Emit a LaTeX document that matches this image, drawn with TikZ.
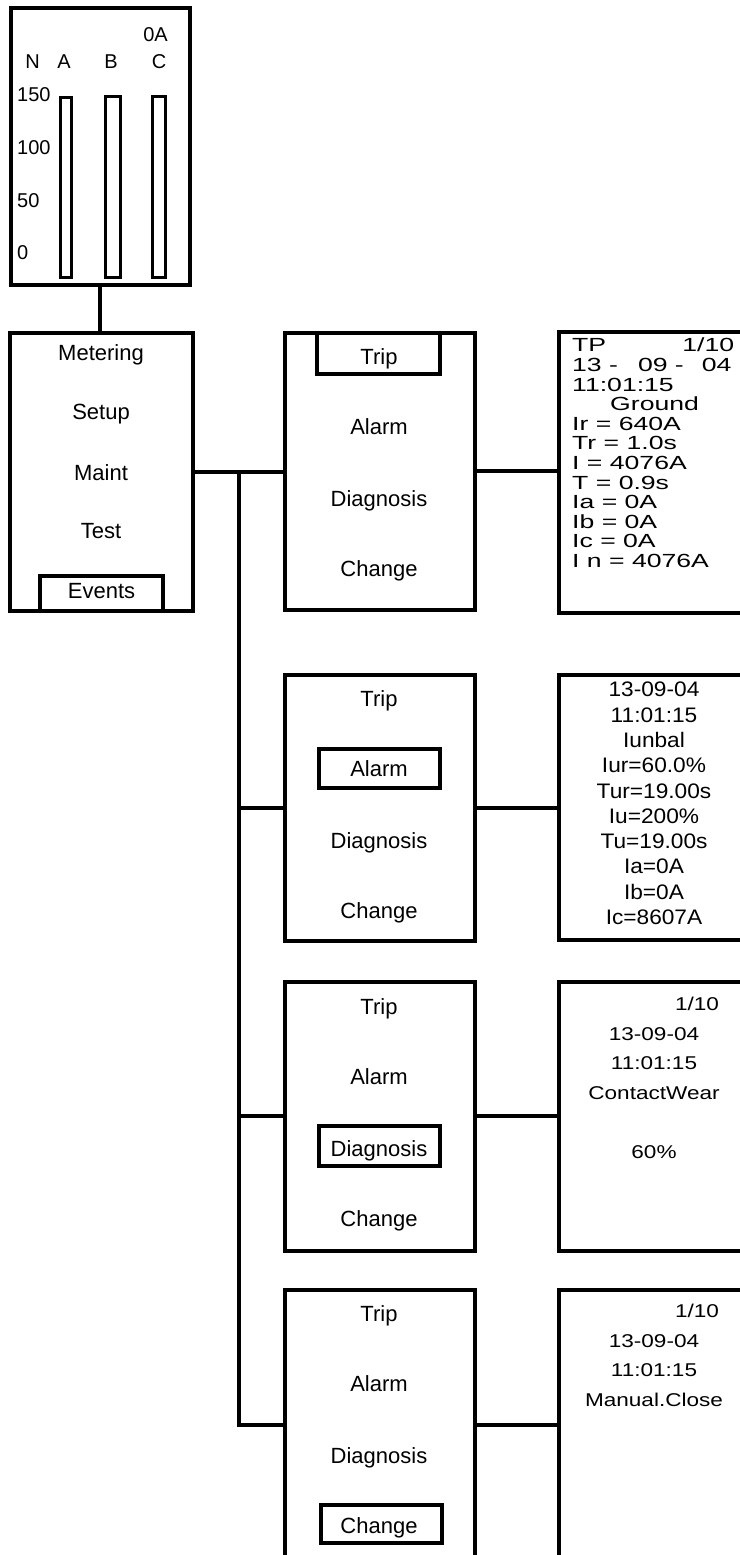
\documentclass[tikz,border=0pt]{standalone}
\usepackage{fontspec}
\setmainfont{Liberation Sans}
\newfontfamily\logwide[FakeStretch=1.4]{Liberation Sans}
\newfontfamily\logmid[FakeStretch=1.08]{Liberation Sans}
\newfontfamily\lognarrow[FakeStretch=1.22]{Liberation Sans}

\tikzset{
    panel/.style={draw, line width=4pt, inner sep=0pt},
    pick/.style={draw, line width=4pt, inner sep=0pt},
    bar/.style={draw, line width=3pt, inner sep=0pt},
    item/.style={inner sep=0pt, anchor=base, font=\fontsize{22}{26}\selectfont},
    gauge/.style={inner sep=0pt, anchor=base, font=\fontsize{20}{24}\selectfont},
    wire/.style={line width=4pt},
}

\begin{document}
\begin{tikzpicture}[x=1pt, y=-1pt]
    \useasboundingbox (0,0) rectangle (739,1555);
    % Bar meter
    \node[panel, minimum width=179pt, minimum height=276pt] (meter) at (100,146.5) {};
    \node[bar, minimum width=11.5pt, minimum height=180pt] (barA) at (65.75,187.5) {};
    \node[bar, minimum width=15pt, minimum height=181.5pt] (barB) at (112.5,186.75) {};
    \node[bar, minimum width=12.5pt, minimum height=181.5pt] (barC) at (158.75,186.75) {};
    \node[gauge] (amps) at (155.5,42) {0A};
    \node[gauge] (phN) at (32.5,68) {N};
    \node[gauge] (phA) at (64,68) {A};
    \node[gauge] (phB) at (111,68) {B};
    \node[gauge] (phC) at (159,68) {C};
    \node[gauge, anchor=base west] (g150) at (17,101) {150};
    \node[gauge, anchor=base west] (g100) at (17,154) {100};
    \node[gauge, anchor=base west] (g50) at (17,207) {50};
    \node[gauge, anchor=base west] (g0) at (17,259) {0};

    % Main menu
    \node[panel, minimum width=183pt, minimum height=277.5pt] (menu) at (101.5,471.75) {};
    \node[item] (mMetering) at (101,360) {Metering};
    \node[item] (mSetup) at (101,419) {Setup};
    \node[item] (mMaint) at (101,480) {Maint};
    \node[item] (mTest) at (101,538) {Test};
    \node[pick, minimum width=123pt, minimum height=35pt] (mEventsBox) at (101,593) {};
    \node[item] (mEvents) at (101.5,598) {Events};

    % Event menus
    \node[panel, minimum width=190pt, minimum height=277pt] (ev1) at (379.5,471) {};
    \node[pick, minimum width=123pt, minimum height=41pt] (ev1Box) at (378,353) {};
    \node[item] (ev1Trip) at (379,364) {Trip};
    \node[item] (ev1Alarm) at (379,434) {Alarm};
    \node[item] (ev1Diag) at (379,506.5) {Diagnosis};
    \node[item] (ev1Change) at (379,576) {Change};

    \node[panel, minimum width=190pt, minimum height=266pt] (ev2) at (379.5,807.5) {};
    \node[pick, minimum width=120.5pt, minimum height=39pt] (ev2Box) at (379.25,768) {};
    \node[item] (ev2Trip) at (379,706) {Trip};
    \node[item] (ev2Alarm) at (379,776) {Alarm};
    \node[item] (ev2Diag) at (379,848.5) {Diagnosis};
    \node[item] (ev2Change) at (379,918) {Change};

    \node[panel, minimum width=190pt, minimum height=269.5pt] (ev3) at (379.5,1116.25) {};
    \node[pick, minimum width=120.5pt, minimum height=39.5pt] (ev3Box) at (379.25,1145.75) {};
    \node[item] (ev3Trip) at (379,1014) {Trip};
    \node[item] (ev3Alarm) at (379,1084) {Alarm};
    \node[item] (ev3Diag) at (379,1156) {Diagnosis};
    \node[item] (ev3Change) at (379,1226) {Change};

    \node[panel, minimum width=190pt, minimum height=270.5pt] (ev4) at (379.5,1424.75) {};
    \node[pick, minimum width=121pt, minimum height=38pt] (ev4Box) at (381,1523.5) {};
    \node[item] (ev4Trip) at (379,1321) {Trip};
    \node[item] (ev4Alarm) at (379,1391) {Alarm};
    \node[item] (ev4Diag) at (379,1463) {Diagnosis};
    \node[item] (ev4Change) at (379,1533) {Change};

    % Record screens
    \node[panel, minimum width=221.5pt, minimum height=281pt] (rec1) at (669.25,472) {};
    \node[panel, minimum width=221.5pt, minimum height=265.5pt] (rec2) at (669.25,807.25) {};
    \node[panel, minimum width=221.5pt, minimum height=269pt] (rec3) at (669.25,1116) {};
    \node[panel, minimum width=221.5pt, minimum height=270.5pt] (rec4) at (669.25,1424.75) {};

    \node[anchor=north west, inner sep=0pt, align=left, font=\logwide\fontsize{19}{19.6}\selectfont] (log1) at (572,338)
        {\makebox[162pt][l]{TP\hfill 1/10}\\
         13 -\hspace{20pt}09 -\hspace{18pt}04\\
         11:01:15\\
         \hspace*{38pt}Ground\\
         Ir = 640A\\
         Tr = 1.0s\\
         I = 4076A\\
         T = 0.9s\\
         Ia = 0A\\
         Ib = 0A\\
         Ic = 0A\\
         I n = 4076A};
    \node[anchor=north, inner sep=0pt, align=center, font=\logmid\fontsize{21}{25.3}\selectfont] (log2) at (654,682)
        {13-09-04\\ 11:01:15\\ Iunbal\\ Iur=60.0\%\\ Tur=19.00s\\ Iu=200\%\\ Tu=19.00s\\ Ia=0A\\ Ib=0A\\ Ic=8607A};
    \node[anchor=base, inner sep=0pt, font=\lognarrow\fontsize{18.5}{29.5}\selectfont] (page3) at (697,1010) {1/10};
    \node[anchor=north, inner sep=0pt, align=center, font=\lognarrow\fontsize{18.5}{29.5}\selectfont] (log3) at (654,1027)
        {13-09-04\\ 11:01:15\\ ContactWear\\[29.5pt] 60\%};
    \node[anchor=base, inner sep=0pt, font=\lognarrow\fontsize{18.5}{29.5}\selectfont] (page4) at (697,1317) {1/10};
    \node[anchor=north, inner sep=0pt, align=center, font=\lognarrow\fontsize{18.5}{29.5}\selectfont] (log4) at (654,1334)
        {13-09-04\\ 11:01:15\\ Manual.Close};

    % Connectors
    \draw[wire] (meter.south) -- (meter.south |- menu.north);
    \draw[wire] (menu.east) -- (menu.east -| ev1.west);
    \coordinate (split) at (238.5,471.75);
    \draw[wire] (split) |- (ev4.west);
    \draw[wire] (split |- ev2.west) -- (ev2.west);
    \draw[wire] (split |- ev3.west) -- (ev3.west);
    \draw[wire] (ev1.east) -- (ev1.east -| rec1.west);
    \draw[wire] (ev2.east) -- (ev2.east -| rec2.west);
    \draw[wire] (ev3.east) -- (ev3.east -| rec3.west);
    \draw[wire] (ev4.east) -- (ev4.east -| rec4.west);
\end{tikzpicture}
\end{document}
